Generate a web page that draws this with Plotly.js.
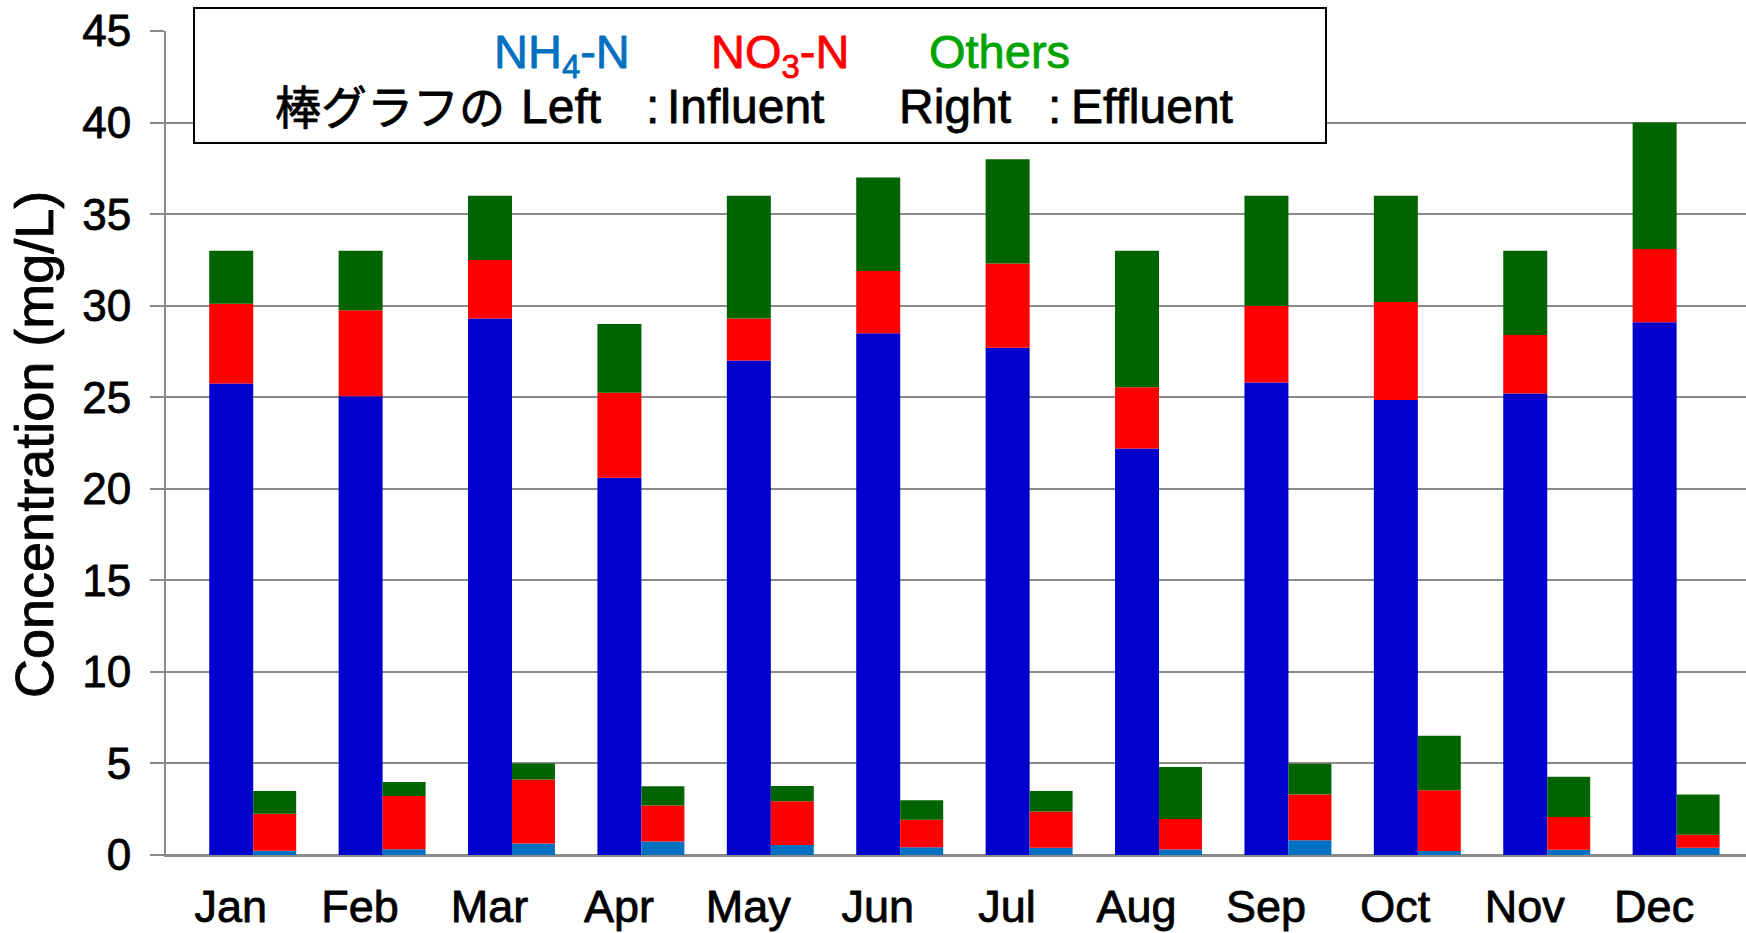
<!DOCTYPE html>
<html>
<head>
<meta charset="utf-8">
<script src="https://cdn.plot.ly/plotly-3.0.1.min.js"></script>
<style>
  html, body { margin: 0; padding: 0; background: #ffffff; }
  #chart { width: 1746px; height: 933px; }
</style>
</head>
<body>
<div id="chart"></div>
<script>
// ---- data ----
const months = ['Jan', 'Feb', 'Mar', 'Apr', 'May', 'Jun', 'Jul', 'Aug', 'Sep', 'Oct', 'Nov', 'Dec'];

// Influent (left bar of each month)
const influentNH4 = [25.75, 25.05, 29.3, 20.6, 27.0, 28.5, 27.7, 22.2, 25.8, 24.85, 25.2, 29.1];
const influentNO3 = [4.35, 4.7, 3.2, 4.65, 2.3, 3.4, 4.6, 3.35, 4.2, 5.35, 3.2, 4.0];
const influentOthers = [2.9, 3.25, 3.5, 3.75, 6.7, 5.1, 5.7, 7.45, 6.0, 5.8, 4.6, 6.9];

// Effluent (right bar of each month)
const effluentNH4 = [0.23, 0.32, 0.63, 0.74, 0.54, 0.43, 0.39, 0.30, 0.80, 0.22, 0.29, 0.40];
const effluentNO3 = [2.02, 2.9, 3.5, 1.97, 2.4, 1.5, 1.99, 1.67, 2.51, 3.31, 1.79, 0.71];
const effluentOthers = [1.25, 0.76, 0.87, 1.04, 0.83, 1.06, 1.11, 2.83, 1.67, 2.98, 2.2, 2.19];

const yTicks = [0, 5, 10, 15, 20, 25, 30, 35, 40, 45];

// ---- styling ----
const FONT = 'Liberation Sans, Arial, Noto Sans CJK JP, sans-serif';
const GRID = '#8a8a8a';
const C_IN_NH4 = '#0000CC';
const C_EF_NH4 = '#0070C0';
const C_NO3 = '#FF0000';
const C_OTH = '#006400';

const W = 1746, H = 933;
const M = { l: 166, r: 0, t: 31, b: 78 };
const PW = W - M.l - M.r, PH = H - M.t - M.b;
const px = v => (v - M.l) / PW;        // page pixel x -> paper x
const py = v => (H - M.b - v) / PH;    // page pixel y -> paper y

const add = (a, b) => a.map((v, i) => v + b[i]);

function bar(name, y, base, color, offset, width) {
  return {
    type: 'bar', name: name, x: months, y: y, base: base,
    offset: offset, width: width,
    marker: { color: color, line: { width: 0 } },
    showlegend: false, hoverinfo: 'x+y+name'
  };
}

const zeros = months.map(() => 0);
const LOFF = -0.166, LW = 0.34, ROFF = 0.174, RW = 0.332;

const traces = [
  bar('Influent NH4-N', influentNH4, zeros, C_IN_NH4, LOFF, LW),
  bar('Influent NO3-N', influentNO3, influentNH4, C_NO3, LOFF, LW),
  bar('Influent Others', influentOthers, add(influentNH4, influentNO3), C_OTH, LOFF, LW),
  bar('Effluent NH4-N', effluentNH4, zeros, C_EF_NH4, ROFF, RW),
  bar('Effluent NO3-N', effluentNO3, effluentNH4, C_NO3, ROFF, RW),
  bar('Effluent Others', effluentOthers, add(effluentNH4, effluentNO3), C_OTH, ROFF, RW)
];

function ann(text, xPix, yPix, size, color, anchorY) {
  return {
    text: text, xref: 'paper', yref: 'paper', x: px(xPix), y: py(yPix),
    xanchor: 'left', yanchor: anchorY || 'top', showarrow: false,
    font: { family: FONT, size: size, color: color }, borderpad: 0
  };
}

const L1 = 24, L2 = 79;
const annotations = [
  ann('NH<sub>4</sub>-N', 493, L1, 47, '#0070C0'),
  ann('NO<sub>3</sub>-N', 710, L1, 47, '#FF0000'),
  ann('Others', 928, L1, 47, '#00A400'),
  ann('棒グラフの', 274, L2 + 2, 46, '#000000'),
  ann('Left', 520, L2, 48, '#000000'),
  ann(':', 645, L2, 48, '#000000'),
  ann('Influent', 666, L2, 48, '#000000'),
  ann('Right', 898, L2, 48, '#000000'),
  ann(':', 1047, L2, 48, '#000000'),
  ann('Effluent', 1070, L2, 48, '#000000'),
  {
    text: 'Concentration (mg/L)', xref: 'paper', yref: 'paper',
    x: px(34), y: py(445), xanchor: 'center', yanchor: 'middle',
    textangle: -90, showarrow: false, borderpad: 0,
    font: { family: FONT, size: 54, color: '#000000' }
  }
];

const layout = {
  width: W, height: H,
  margin: M,
  paper_bgcolor: '#ffffff', plot_bgcolor: '#ffffff',
  barmode: 'overlay',
  showlegend: false,
  font: { family: FONT, color: '#000000' },
  xaxis: {
    type: 'category', categoryorder: 'array', categoryarray: months,
    range: [-0.5, 11.71], fixedrange: true,
    showgrid: false, zeroline: false,
    showline: true, linecolor: GRID, linewidth: 2,
    ticks: '', ticklabelstandoff: 11,
    tickfont: { family: FONT, size: 45, color: '#000000' }
  },
  yaxis: {
    range: [0, 45], tickmode: 'array', tickvals: yTicks,
    ticktext: yTicks.map(String),
    showgrid: true, gridcolor: GRID, gridwidth: 2,
    zeroline: true, zerolinecolor: GRID, zerolinewidth: 2,
    showline: true, linecolor: GRID, linewidth: 2,
    ticks: 'outside', ticklen: 14, tickwidth: 2, tickcolor: GRID,
    ticklabelstandoff: 10,
    tickfont: { family: FONT, size: 44, color: '#000000' }
  },
  shapes: [{
    type: 'rect', xref: 'paper', yref: 'paper', layer: 'above',
    x0: px(194), x1: px(1326), y0: py(143), y1: py(8),
    fillcolor: '#ffffff', line: { color: '#000000', width: 2 }
  }],
  annotations: annotations
};

function thickenText() {
  document.querySelectorAll('#chart text').forEach(t => {
    const f = t.style.fill || window.getComputedStyle(t).fill;
    if (f && f !== 'none') {
      t.style.stroke = f;
      t.style.strokeWidth = '0.8px';
      t.style.strokeLinejoin = 'round';
    }
  });
}

Plotly.newPlot('chart', traces, layout, { displayModeBar: false, staticPlot: true })
  .then(thickenText);
</script>
</body>
</html>
